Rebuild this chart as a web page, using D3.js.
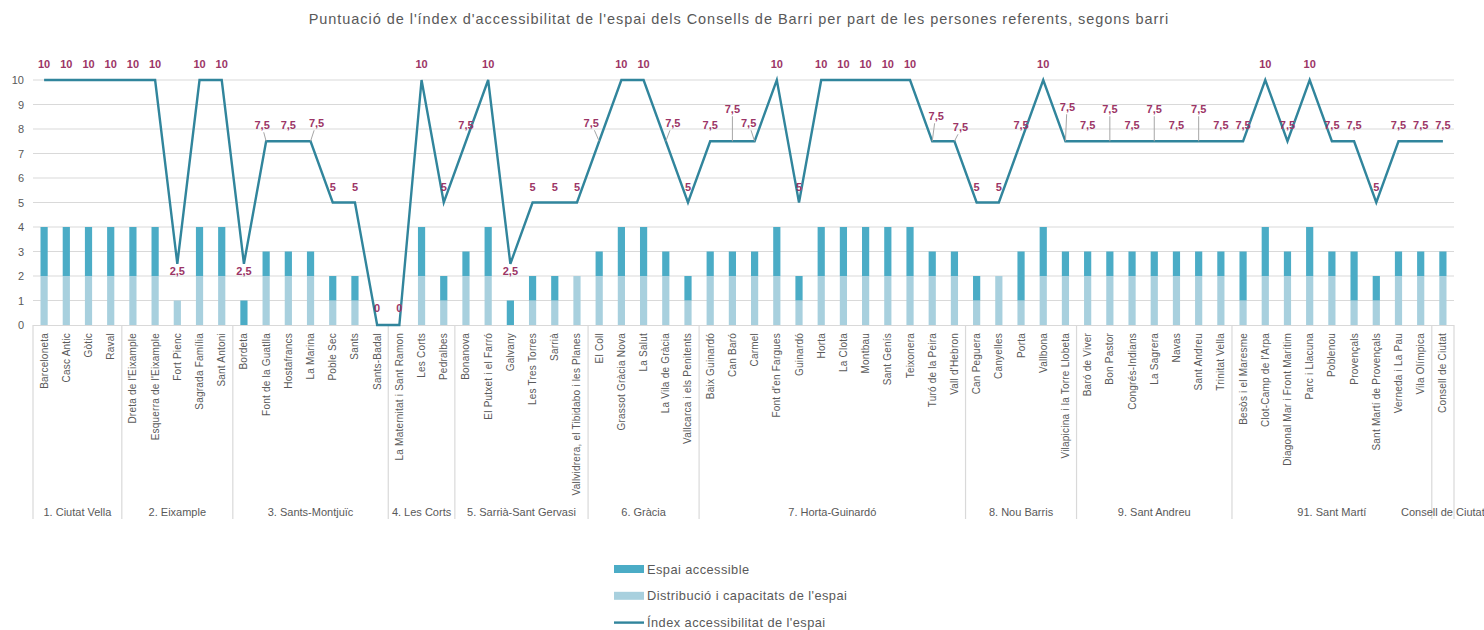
<!DOCTYPE html>
<html><head><meta charset="utf-8">
<script src="https://cdn.jsdelivr.net/npm/d3@7"></script>
<style>
body{margin:0;background:#fff;}
svg text{font-family:"Liberation Sans",Arial,sans-serif;}
</style></head>
<body><svg id="c" width="1484" height="630"></svg>
<script>
const categories = ["Barceloneta","Casc Antic","Gòtic","Raval",
"Dreta de l'Eixample","Esquerra de l'Eixample","Fort Pienc","Sagrada  Família","Sant Antoni",
"Bordeta","Font de la Guatlla","Hostafrancs","La Marina","Poble Sec","Sants","Sants-Badal",
"La Maternitat i Sant Ramon","Les Corts","Pedralbes",
"Bonanova","El Putxet i el Farró","Galvany","Les Tres  Torres","Sarrià","Vallvidrera, el Tibidabo i les Planes",
"El Coll","Grassot Gràcia Nova","La Salut","La Vila de  Gràcia","Vallcarca i els Penitents",
"Baix Guinardó","Can Baró","Carmel","Font d'en Fargues","Guinardó","Horta","La Clota","Montbau","Sant Genís","Teixonera","Turó de la Peira","Vall d'Hebron",
"Can Peguera","Canyelles","Porta","Vallbona","Vilapicina i la Torre Llobeta",
"Baró de Viver","Bon Pastor","Congrés-Indians","La Sagrera","Navas","Sant Andreu","Trinitat Vella",
"Besòs i el Maresme","Clot-Camp de l'Arpa","Diagonal Mar i Front Marítim","Parc i Llacuna","Poblenou","Provençals","Sant Martí de Provençals","Verneda i La Pau","Vila Olímpica",
"Consell de Ciutat"];

const groupNames = ["1. Ciutat Vella","2. Eixample","3. Sants-Montjuïc","4. Les Corts","5. Sarrià-Sant Gervasi","6. Gràcia","7. Horta-Guinardó","8. Nou Barris","9. Sant Andreu","91. Sant Martí","Consell de Ciutat"];
const groupCounts = [4,5,7,3,6,5,12,5,7,9,1];

const distribucio = [2,2,2,2, 2,2,1,2,2, 0,2,2,2,1,1,0, 0,2,1, 2,2,0,1,1,2, 2,2,2,2,1, 2,2,2,2,1,2,2,2,2,2,2,2, 1,2,1,2,2, 2,2,2,2,2,2,2, 1,2,2,2,2,1,1,2,2, 2];
const espaiAccessible = [2,2,2,2, 2,2,0,2,2, 1,1,1,1,1,1,0, 0,2,1, 1,2,1,1,1,0, 1,2,2,1,1, 1,1,1,2,1,2,2,2,2,2,1,1, 1,0,2,2,1, 1,1,1,1,1,1,1, 2,2,1,2,1,2,1,1,1, 1];
const indexValues = [10,10,10,10, 10,10,2.5,10,10, 2.5,7.5,7.5,7.5,5,5,0, 0,10,5, 7.5,10,2.5,5,5,5, 7.5,10,10,7.5,5, 7.5,7.5,7.5,10,5,10,10,10,10,10,7.5,7.5, 5,5,7.5,10,7.5, 7.5,7.5,7.5,7.5,7.5,7.5,7.5, 7.5,10,7.5,10,7.5,7.5,5,7.5,7.5, 7.5];
const yTicks = [0,1,2,3,4,5,6,7,8,9,10];

const seriesNames = ["Espai accessible","Distribució i capacitats de l'espai","Índex accessibilitat de l'espai"];

// label placement tweaks (mimic Excel's auto-placement with leader lines)
const labelShift = {
  "Font de la Guatlla":[-4,0], "La Marina":[6,-2], "El Coll":[-8,-2], "La Vila de  Gràcia":[7,-2],
  "Carmel":[-6,-2], "Can Baró":[0,-16], "Turó de la Peira":[4,-9], "Vall d'Hebron":[6,2],
  "Vilapicina i la Torre Llobeta":[2,-18], "Bon Pastor":[0,-16], "La Sagrera":[0,-16], "Sant Andreu":[0,-16]
};

const cDark = "#4BACC6", cLight = "#A8D0DE", cLine = "#31859C", cLabel = "#9C3566", cText = "#595959", cGrid = "#D9D9D9";

const svg = d3.select("#c");
const pLeft = 33, pRight = 1454, pTop = 80, pBottom = 325;
const x = d3.scaleBand().domain(categories).range([pLeft, pRight]);
const y = d3.scaleLinear().domain([0,10]).range([pBottom, pTop]);
const bw = x.bandwidth(), barW = 7.2;
const cx = c => x(c) + bw/2;

svg.append("text").attr("x", 739).attr("y", 24).attr("text-anchor","middle")
  .attr("font-size", 14.5).attr("letter-spacing", 0.95).attr("fill", cText)
  .text("Puntuació de l'índex d'accessibilitat de l'espai dels Consells de Barri per part de les persones referents, segons barri");

// gridlines
svg.append("g").selectAll("line").data(yTicks.slice(1)).join("line")
  .attr("x1", pLeft).attr("x2", pRight).attr("y1", d=>y(d)).attr("y2", d=>y(d))
  .attr("stroke", cGrid).attr("stroke-width", 1);

// y axis
const ya = svg.append("g").attr("transform", `translate(${pLeft},0)`)
  .call(d3.axisLeft(y).tickValues(yTicks).tickSize(0).tickPadding(9));
ya.select(".domain").remove();
ya.selectAll("text").attr("font-size", 11).attr("fill", cText).attr("font-family","Liberation Sans, Arial, sans-serif");

// bars
const bars = svg.append("g");
categories.forEach((c,i)=>{
  const d0 = distribucio[i], d1 = espaiAccessible[i];
  if (d0>0) bars.append("rect").attr("x", cx(c)-barW/2).attr("width", barW)
    .attr("y", y(d0)).attr("height", y(0)-y(d0)).attr("fill", cLight);
  if (d1>0) bars.append("rect").attr("x", cx(c)-barW/2).attr("width", barW)
    .attr("y", y(d0+d1)).attr("height", y(d0)-y(d0+d1)).attr("fill", cDark);
});

// x axis baseline and group separators
svg.append("line").attr("x1", pLeft).attr("x2", pRight).attr("y1", pBottom+0.5).attr("y2", pBottom+0.5)
  .attr("stroke", cGrid).attr("stroke-width", 1.2);
let acc = 0;
const seps = [0];
groupCounts.forEach(n=>{acc+=n; seps.push(acc);});
svg.append("g").selectAll("line").data(seps).join("line")
  .attr("x1", d=> d<categories.length ? x(categories[d]) : pRight)
  .attr("x2", d=> d<categories.length ? x(categories[d]) : pRight)
  .attr("y1", pBottom).attr("y2", 519).attr("stroke", cGrid).attr("stroke-width", 1.2);

// category labels
svg.append("g").selectAll("text").data(categories).join("text")
  .attr("transform", c=>`translate(${cx(c)},${pBottom+8}) rotate(-90)`)
  .attr("text-anchor","end").attr("dominant-baseline","central")
  .attr("font-size", 10).attr("letter-spacing", 0.22).attr("fill", cText).text(c=>c);

// group labels
svg.append("g").selectAll("text").data(groupNames).join("text")
  .attr("x", (g,i)=>{ const a = x(categories[seps[i]]); const b = seps[i+1]<categories.length ? x(categories[seps[i+1]]) : pRight; return (a+b)/2; })
  .attr("y", 512).attr("text-anchor","middle").attr("dominant-baseline","central")
  .attr("font-size", 11).attr("fill", cText).text(g=>g);

// line
const line = d3.line().x((d,i)=>cx(categories[i])).y(d=>y(d));
svg.append("path").datum(indexValues).attr("d", line).attr("fill","none")
  .attr("stroke", cLine).attr("stroke-width", 2.4).attr("stroke-linejoin","miter");

// data labels
const lg = svg.append("g");
const fmt = v => String(v).replace(".", ",");
categories.forEach((c,i)=>{
  const v = indexValues[i];
  const px = cx(c), py = y(v);
  let lx = px, ly = py - 16;
  if (v === 2.5) ly = py + 7;
  if (v === 0) ly = py - 17;
  const s = labelShift[c];
  if (s) {
    lx += s[0]; ly += s[1];
    lg.append("line").attr("x1", px).attr("y1", py).attr("x2", lx - s[0]*0.4).attr("y2", ly + 7)
      .attr("stroke", "#A6A6A6").attr("stroke-width", 1);
  }
  lg.append("text").attr("x", lx).attr("y", ly).attr("text-anchor","middle").attr("dominant-baseline","central")
    .attr("font-size", 11).attr("font-weight","bold").attr("fill", cLabel).text(fmt(v));
});

// legend
const leg = svg.append("g");
[[cDark,"rect"],[cLight,"rect"],[cLine,"line"]].forEach((d,i)=>{
  const yy = 569 + i*26.8;
  if (d[1]==="rect") leg.append("rect").attr("x", 614).attr("y", yy-4).attr("width", 30).attr("height", 8).attr("fill", d[0]);
  else leg.append("line").attr("x1", 614).attr("x2", 644).attr("y1", yy).attr("y2", yy).attr("stroke", d[0]).attr("stroke-width", 2.4);
  leg.append("text").attr("x", 647).attr("y", yy).attr("dominant-baseline","central")
    .attr("font-size", 12.8).attr("letter-spacing", 0.45).attr("fill", cText).text(seriesNames[i]);
});
</script></body></html>
